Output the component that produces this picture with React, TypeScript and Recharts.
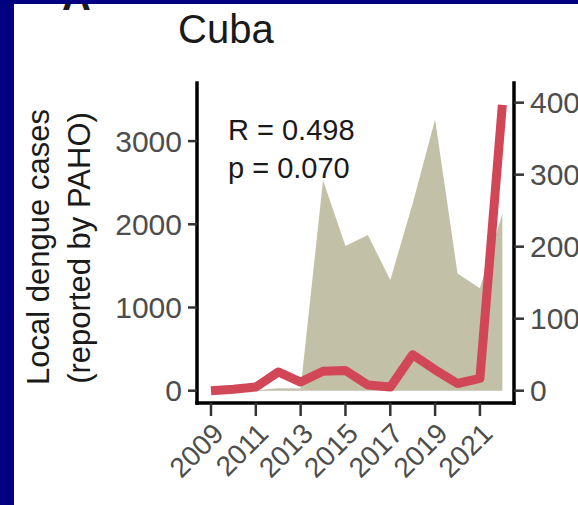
import { ComposedChart, Area, Line, XAxis, YAxis } from 'recharts';

const years = [2009, 2010, 2011, 2012, 2013, 2014, 2015, 2016, 2017, 2018, 2019, 2020, 2021, 2022];
// local dengue cases reported by PAHO (left axis)
const localCases = [0, 0, 5, 30, 25, 2530, 1740, 1870, 1330, 2250, 3260, 1410, 1230, 2130];
// red series (right axis)
const lineValues = [0, 2, 5, 26, 12, 27, 28, 8, 5, 50, 29, 10, 17, 397];

const yearTicks = [2009, 2011, 2013, 2015, 2017, 2019, 2021];
const leftTicks = [0, 1000, 2000, 3000];
const rightTicks = [0, 100, 200, 300, 400];

const data = years.map((year, i) => ({ year, local: localCases[i], other: lineValues[i] }));

const FONT = '"Liberation Sans", Arial, Helvetica, sans-serif';
const tickText = { fill: '#4d4d4d', fontSize: 30, fontFamily: FONT };

function YearTick(props: any) {
  const { x, y, payload } = props;
  return (
    <text
      x={x}
      y={y}
      dy="0.72em"
      textAnchor="end"
      transform={`rotate(-45 ${x} ${y})`}
      fill="#4d4d4d"
      fontSize={28}
      fontFamily={FONT}
    >
      {payload.value}
    </text>
  );
}

export default function App() {
  return (
    <div style={{ position: 'absolute', left: 0, top: 0, width: 578, height: 505, background: '#fff', overflow: 'hidden' }}>
      <ComposedChart width={578} height={505} data={data} margin={{ top: 83, right: 4, bottom: 12, left: 97 }}>
        <XAxis
          dataKey="year"
          type="number"
          domain={[2008.376, 2022.52]}
          ticks={yearTicks}
          interval={0}
          height={90}
          tickSize={13}
          tickMargin={5}
          axisLine={{ stroke: '#000', strokeWidth: 3.5, strokeLinecap: 'square' }}
          tickLine={{ stroke: '#333', strokeWidth: 2.5 }}
          tick={<YearTick />}
        />
        <YAxis
          yAxisId="left"
          orientation="left"
          width={100}
          domain={[-147.8, 3698]}
          ticks={leftTicks}
          interval={0}
          tickSize={9}
          tickMargin={6}
          axisLine={{ stroke: '#000', strokeWidth: 3.5, strokeLinecap: 'square' }}
          tickLine={{ stroke: '#333', strokeWidth: 2.5 }}
          tick={tickText}
        />
        <YAxis
          yAxisId="right"
          orientation="right"
          width={60}
          domain={[-17.1, 427.3]}
          ticks={rightTicks}
          interval={0}
          tickSize={10}
          tickMargin={6}
          axisLine={{ stroke: '#000', strokeWidth: 3.5, strokeLinecap: 'square' }}
          tickLine={{ stroke: '#333', strokeWidth: 2.5 }}
          tick={{ ...tickText, textAnchor: 'start' }}
        />
        <Area
          yAxisId="left"
          dataKey="local"
          type="linear"
          baseValue={0}
          fill="#c2c0a6"
          fillOpacity={1}
          stroke="none"
          isAnimationActive={false}
        />
        <Line
          yAxisId="right"
          dataKey="other"
          type="linear"
          stroke="#d14758"
          strokeWidth={9}
          strokeLinejoin="round"
          dot={false}
          activeDot={false}
          isAnimationActive={false}
        />
      </ComposedChart>
      <svg width={578} height={505} style={{ position: 'absolute', left: 0, top: 0, pointerEvents: 'none' }}>
        <text x={62} y={10} fontSize={40} fontWeight="bold" fontFamily={FONT} fill="#1a1a1a">A</text>
        <text x={178} y={43} fontSize={40} fontFamily={FONT} fill="#1a1a1a">Cuba</text>
        <text x={49} y={247} transform="rotate(-90 49 247)" textAnchor="middle" fontSize={31} fontFamily={FONT} fill="#1a1a1a">
          Local dengue cases
        </text>
        <text x={90} y={248} transform="rotate(-90 90 248)" textAnchor="middle" fontSize={31} fontFamily={FONT} fill="#1a1a1a">
          (reported by PAHO)
        </text>
        <text x={228} y={140} fontSize={29} fontFamily={FONT} fill="#1a1a1a">R = 0.498</text>
        <text x={228} y={178} fontSize={29} fontFamily={FONT} fill="#1a1a1a">p = 0.070</text>
        <rect x={0} y={0} width={578} height={4} fill="#000080" />
        <rect x={0} y={0} width={14} height={505} fill="#000080" />
      </svg>
    </div>
  );
}
